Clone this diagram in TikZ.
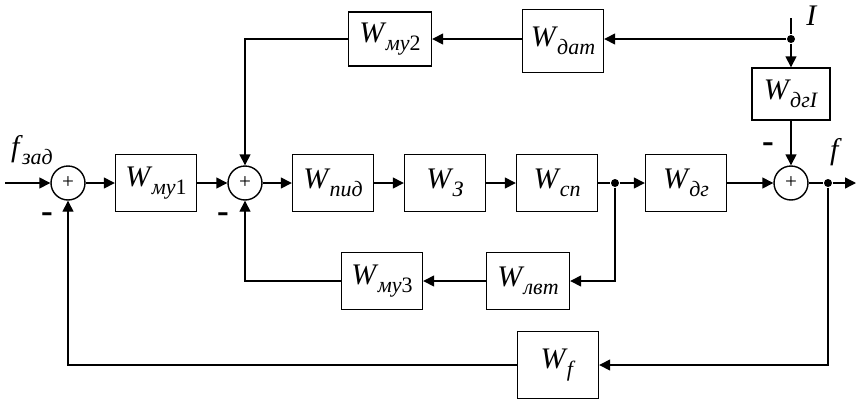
\documentclass[tikz,border=0pt]{standalone}
\usepackage{fontspec}
\setmainfont{Liberation Serif}
\usetikzlibrary{arrows.meta,calc}

% transfer function label: W with a lowered subscript
\newcommand{\tf}[2]{\textit{#1}\kern-0.5pt\raisebox{-0.55ex}{\fontsize{12.5}{13}\selectfont #2}}

\begin{document}
\begin{tikzpicture}[
    x=0.02cm,y=-0.02cm,
    font=\fontsize{17}{20}\selectfont,
    >={Triangle[length=2.2mm,width=2.2mm]},
    line width=0.8pt,
    blk/.style={draw,minimum width=1.62cm,minimum height=1.14cm,inner sep=1pt},
    sum/.style={draw,circle,minimum size=0.68cm,inner sep=0pt,
                font=\fontsize{12}{12}\selectfont},
    ar/.style={->},
    dot/.style={circle,fill,inner sep=0pt,minimum size=0.16cm},
    sgn/.style={font=\fontsize{20}{20}\selectfont\bfseries},
  ]
  \useasboundingbox (0,0) rectangle (867,410);

  % ---------- MAIN CHAIN ----------
  \coordinate (in) at (5,183);
  \node[sum] (s1)   at (68,183)  {\raisebox{-0.4ex}{+}};
  \node[blk] (wmu1) at (156,183) {\tf{W}{\textit{му}1}};
  \node[sum] (s2)   at (245,183) {\raisebox{-0.4ex}{+}};
  \node[blk] (wpid) at (333,183) {\tf{W}{\textit{пид}}};
  \node[blk] (w3)   at (445,183) {\tf{W}{\textit{З}}};
  \node[blk] (wsp)  at (557,183) {\tf{W}{\textit{сп}}};
  \node[dot] (j1)   at (615,183) {};
  \node[blk] (wdg)  at (686,183) {\tf{W}{\textit{дг}}};
  \node[sum] (s3)   at (791,183) {\raisebox{-0.6ex}{+}};
  \node[dot] (j2)   at (828,183) {};
  \coordinate (out) at (856,183);

  \draw[ar] (in) -- (s1);
  \draw[ar] (s1) -- (wmu1);
  \draw[ar] (wmu1) -- (s2);
  \draw[ar] (s2) -- (wpid);
  \draw[ar] (wpid) -- (w3);
  \draw[ar] (w3) -- (wsp);
  \draw (wsp) -- (j1);
  \draw[ar] (j1) -- (wdg);
  \draw[ar] (wdg) -- (s3);
  \draw (s3) -- (j2);
  \draw[ar] (j2) -- (out);

  % ---------- DISTURBANCE I (top) ----------
  \coordinate (top) at (791,18);
  \node[dot] (jI)   at (791,39) {};
  \node[blk,minimum width=1.56cm,minimum height=1.04cm] (wdgI) at (791,94)
        {\tf{W}{\textit{дгI}}};
  \node[blk,minimum height=1.26cm] (wdat) at (563,41) {\tf{W}{\textit{дат}}};
  \node[blk,minimum width=1.66cm,minimum height=1.08cm] (wmu2) at (390,39)
        {\tf{W}{\textit{му}2}};

  \draw (top) -- (jI);
  \draw[ar] (jI) -- (wdgI);
  \draw[ar] (wdgI) -- (s3);
  \draw[ar] (jI) -- (jI -| wdat.east);
  \draw[ar] (jI -| wdat.west) -- (wmu2);
  \draw[ar] (wmu2.west) -| (s2.north);

  % ---------- INNER LOOP (bottom) ----------
  \node[blk,minimum width=1.66cm] (wlvt) at (528,281) {\tf{W}{\textit{лвт}}};
  \node[blk,minimum width=1.62cm] (wmu3) at (382,281) {\tf{W}{\textit{му}3}};

  \draw[ar] (j1) |- (wlvt.east);
  \draw[ar] (wlvt) -- (wmu3);
  \draw[ar] (wmu3.west) -| (s2.south);

  % ---------- OUTER LOOP ----------
  \node[blk,minimum height=1.34cm] (wf) at (558,365) {\tf{W}{\textit{f}}};
  \draw[ar] (j2) |- (wf.east);
  \draw[ar] (wf.west) -| (s1.south);

  % ---------- LABELS ----------
  \node (lfz) at (32,150) {\tf{f}{\textit{зад}}};
  \node (lf)  at (836,152) {\textit{f}};
  \node (lI)  at (812,16) {\textit{I}};
  \node[sgn] (m1) at (47,218)  {-};
  \node[sgn] (m2) at (223,218) {-};
  \node[sgn] (m3) at (768,148) {-};

\end{tikzpicture}
\end{document}
